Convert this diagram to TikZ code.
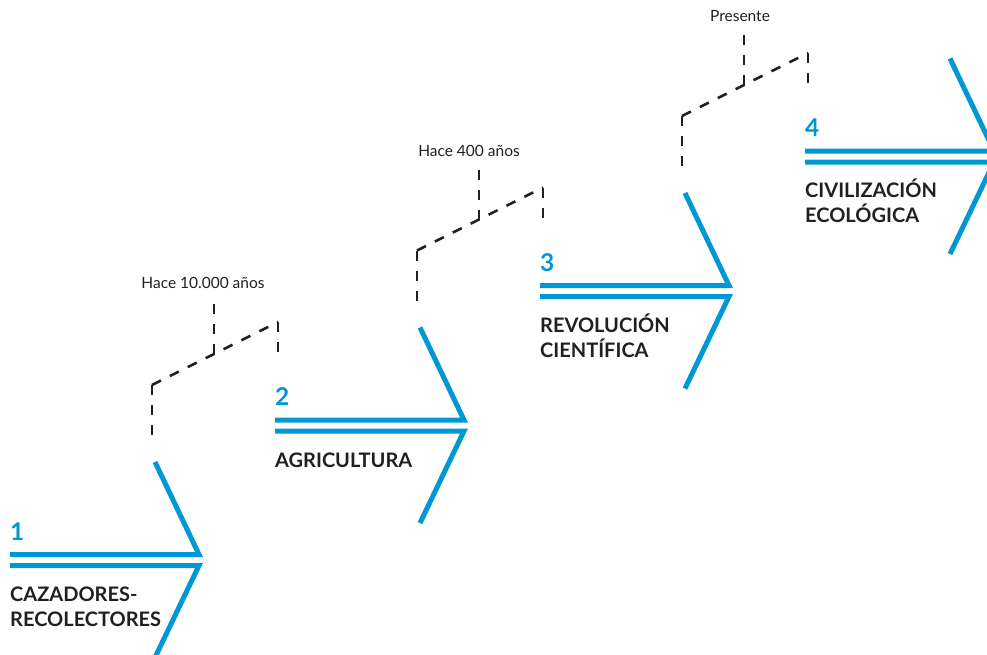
\documentclass[tikz,border=0pt]{standalone}
\usepackage{fontspec}
\setmainfont{Lato}
\definecolor{sblue}{RGB}{0,152,212}
\definecolor{txt}{RGB}{35,31,32}
\begin{document}
\begin{tikzpicture}[x=1pt,y=-1pt,
  chev/.style={draw=sblue, line width=5pt, line join=miter},
  dashline/.style={draw=txt, line width=2.5pt, dash pattern=on 10pt off 10pt},
  num/.style={anchor=base west, inner sep=0pt, text=sblue, font=\fontsize{24.5}{24}\selectfont\bfseries},
  stagelabel/.style={anchor=base west, inner sep=0pt, text=txt, font=\fontsize{20}{25}\selectfont\bfseries, align=left},
  timelabel/.style={anchor=base, inner sep=0pt, text=txt, font=\fontsize{15.5}{16}\selectfont}]
\useasboundingbox (0,0) rectangle (987,654);

% ---- stage chevrons
\foreach \i in {1,2,3,4}{
  \pgfmathsetmacro\dx{265*(\i-1)}
  \pgfmathsetmacro\dy{-134.5*(\i-1)}
  \begin{scope}[shift={(\dx,\dy)}]
    \coordinate (s\i ua) at (10,554.5);
    \coordinate (s\i ut) at (199,554.5);
    \coordinate (s\i top) at (155,462);
    \coordinate (s\i la) at (10,565.5);
    \coordinate (s\i lt) at (199,565.5);
    \coordinate (s\i bot) at (155,657.5);
  \end{scope}
  \draw[chev] (s\i ua) -- (s\i ut) -- (s\i top);
  \draw[chev] (s\i la) -- (s\i lt) -- (s\i bot);
}

% ---- stage numbers and names
\node[num] (n1) at (10,540) {1};
\node[num] (n2) at (275,405.5) {2};
\node[num] (n3) at (540,271) {3};
\node[num] (n4) at (805,136.5) {4};

\node[stagelabel] (t1) at (10,626) {CAZADORES-\\RECOLECTORES};
\node[stagelabel] (t2) at (275,467) {AGRICULTURA};
\node[stagelabel] (t3) at (540,357) {REVOLUCIÓN\\CIENTÍFICA};
\node[stagelabel] (t4) at (805,222.5) {CIVILIZACIÓN\\ECOLÓGICA};

% ---- time labels
\node[timelabel] (L1) at (203,288) {Hace 10.000 años};
\node[timelabel] (L2) at (469,156) {Hace 400 años};
\node[timelabel] (L3) at (740,21) {Presente};

% ---- dashed connectors
\foreach \i/\tx/\ty in {1/214/295, 2/479/163, 3/744/28}{
  \pgfmathsetmacro\dx{265*(\i-1)}
  \pgfmathsetmacro\dy{-134.5*(\i-1)}
  \begin{scope}[shift={(\dx,\dy)}]
    \coordinate (A\i) at (152,438);
    \coordinate (B\i) at (152,385);
    \coordinate (C\i) at (278,322);
    \coordinate (D\i) at (278,352);
    \coordinate (M\i) at (214,354);
  \end{scope}
  \coordinate (T\i) at (\tx,\ty);
  \draw[dashline] (B\i) -- (A\i);
  \draw[dashline] (B\i) -- (C\i);
  \draw[dashline] (C\i) -- (D\i);
  \draw[dashline] (M\i) -- (T\i);
}
\end{tikzpicture}
\end{document}
